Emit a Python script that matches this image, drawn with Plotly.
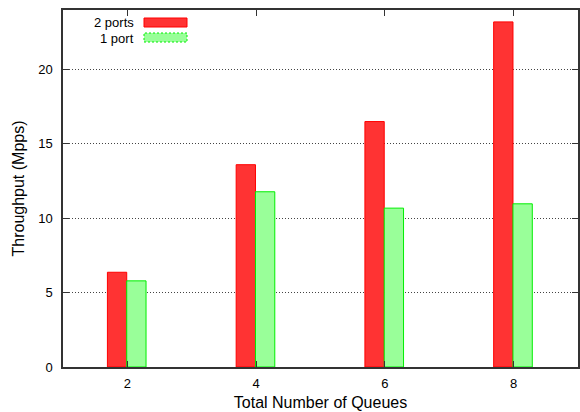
import plotly.graph_objects as go

queues = [2, 4, 6, 8]
two_ports = [6.37, 13.6, 16.5, 23.2]
one_port = [5.79, 11.78, 10.68, 10.97]
series_names = ["2 ports", "1 port"]
y_ticks = [0, 5, 10, 15, 20]

L, R, T, B = 63, 2, 10, 45
W, H = 580, 412
pw, ph = W - L - R, H - T - B

def px(x):
    return (x - L) / pw

def py(y):
    return (H - B - y) / ph

fig = go.Figure()
fig.add_trace(go.Bar(x=queues, y=two_ports, name=series_names[0], width=0.3, offset=-0.31,
                     marker=dict(color="#ff3333", line=dict(color="#ff0000", width=1)),
                     showlegend=False))
fig.add_trace(go.Bar(x=queues, y=one_port, name=series_names[1], width=0.3, offset=-0.01,
                     marker=dict(color="#99ff99", line=dict(color="#00ee00", width=1)),
                     showlegend=False))

# gnuplot-style key
fig.add_shape(type="rect", xref="paper", yref="paper", x0=px(144), x1=px(187), y0=py(27), y1=py(18),
              fillcolor="#ff3333", line=dict(color="#ff0000", width=1))
fig.add_shape(type="rect", xref="paper", yref="paper", x0=px(144), x1=px(187), y0=py(42), y1=py(33),
              fillcolor="#99ff99", line=dict(color="#00ee00", width=1, dash="2px,2px"))
fig.add_annotation(text=series_names[0], xref="paper", yref="paper", x=px(136), y=py(22.5),
                   xanchor="right", yanchor="middle", showarrow=False)
fig.add_annotation(text=series_names[1], xref="paper", yref="paper", x=px(136), y=py(38),
                   xanchor="right", yanchor="middle", showarrow=False)

fig.update_layout(
    width=W, height=H,
    margin=dict(l=L, r=R, t=T, b=B),
    paper_bgcolor="white", plot_bgcolor="white",
    font=dict(family="Liberation Sans, Arial, sans-serif", size=13, color="black"),
    barmode="group",
    xaxis=dict(range=[1, 9], tickvals=queues, ticks="inside", ticklen=6, tickcolor="#333",
               showline=True, linecolor="#333", linewidth=1.5, mirror="ticks", showgrid=False,
               zeroline=False, automargin=False, ticklabelstandoff=4,
               title=dict(text="Total Number of Queues", standoff=6)),
    yaxis=dict(range=[0, 24], tickvals=y_ticks, ticks="inside", ticklen=6, tickcolor="#333",
               showline=True, linecolor="#333", linewidth=1.5, mirror="ticks",
               showgrid=True, gridcolor="#444", griddash="1px,2px", gridwidth=1,
               zeroline=False, automargin=False, ticklabelstandoff=6,
               title=dict(text="Throughput (Mpps)", standoff=10)),
)

fig.write_html("out.html", config={"displayModeBar": False},
               post_script="document.body.style.margin='0';document.body.style.overflow='hidden';")
